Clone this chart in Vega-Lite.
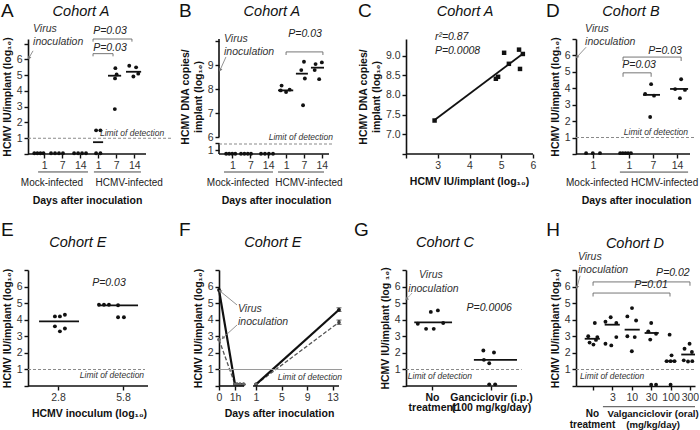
{
"$schema":"https://vega.github.io/schema/vega-lite/v6.json",
"padding":{"left":0,"top":2,"right":0,"bottom":0},
"bounds":"flush",
"columns":4,
"spacing":{"column":40,"row":116},
"concat":[
{"width":151,"height":115,"layer":[
{"data":{"values":[{"x":0.45,"y":0.05},{"x":0.62,"y":0.05},{"x":0.79,"y":0.05},{"x":0.96,"y":0.05},{"x":1.38,"y":0.05},{"x":1.6,"y":0.05},{"x":1.82,"y":0.05},{"x":2.04,"y":0.05},{"x":2.66,"y":0.05},{"x":2.88,"y":0.05},{"x":3.1,"y":0.05},{"x":3.32,"y":0.05},{"x":3.88,"y":1.5},{"x":4.12,"y":1.5},{"x":3.88,"y":0.05},{"x":4.12,"y":0.05},{"x":4.95,"y":5.45},{"x":5.02,"y":5.05},{"x":4.93,"y":4.8},{"x":4.92,"y":2.85},{"x":5.72,"y":5.6},{"x":6.1,"y":5.5},{"x":6.22,"y":5.1},{"x":5.95,"y":4.92}]},
 "mark":{"type":"circle","size":15,"color":"#111","opacity":1},
 "encoding":{"x":{"field":"x","type":"quantitative","scale":{"domain":[0.1,8.482],"nice":false,"zero":false},"axis":{"values":[1,2,3,4,5,6],"tickCount":40,"domain":false,"labelOverlap":false,"labelFlush":false,"labelExpr":"datum.value==1||datum.value==4?'1':(datum.value==2||datum.value==5?'7':'14')","title":"Days after inoculation","titlePadding":25,"titleX":59}},
  "y":{"field":"y","type":"quantitative","scale":{"domain":[0,7.3],"nice":false,"zero":false},"axis":{"values":[0,1,2,3,4,5,6,7],"tickCount":40,"format":"d","labelOverlap":false,"labelFlush":false,"labelExpr":"datum.value>=1&&datum.value<=6?datum.label:''","title":"HCMV IU/implant (log₁₀)","titlePadding":4}}}},
{"data":{"values":[{"x":3.71,"x2":4.27,"y":0.75},{"x":4.54,"x2":5.27,"y":4.97},{"x":5.54,"x2":6.38,"y":5.22}]},"mark":{"type":"rule","color":"#111","strokeWidth":1.8},"encoding":{"x":{"field":"x","type":"quantitative"},"x2":{"field":"x2"},"y":{"field":"y","type":"quantitative"}}},
{"data":{"values":[{"x":0.1,"x2":6.65,"y":0,"y2":0}]},"mark":{"type":"rule","color":"#111","strokeWidth":1.6},"encoding":{"x":{"field":"x","type":"quantitative"},"x2":{"field":"x2"},"y":{"field":"y","type":"quantitative"},"y2":{"field":"y2"}}},
{"data":{"values":[{"x":3.71,"x2":4.82,"y":6.37,"y2":6.37},{"x":3.71,"x2":3.71,"y":6.2,"y2":6.37},{"x":4.82,"x2":4.82,"y":6.2,"y2":6.37},{"x":3.71,"x2":5.87,"y":7.3,"y2":7.3},{"x":3.71,"x2":3.71,"y":7.13,"y2":7.3},{"x":5.87,"x2":5.87,"y":7.13,"y2":7.3}]},"mark":{"type":"rule","color":"#666","strokeWidth":0.9},"encoding":{"x":{"field":"x","type":"quantitative"},"x2":{"field":"x2"},"y":{"field":"y","type":"quantitative"},"y2":{"field":"y2"}}},
{"data":{"values":[{"x":0.66,"x2":3.43,"y":-1.14,"y2":-1.14},{"x":3.76,"x2":6.37,"y":-1.14,"y2":-1.14}]},"mark":{"type":"rule","color":"#333","strokeWidth":0.9},"encoding":{"x":{"field":"x","type":"quantitative"},"x2":{"field":"x2"},"y":{"field":"y","type":"quantitative"},"y2":{"field":"y2"}}},
{"data":{"values":[{"x":0.38,"x2":0.15,"y":6.55,"y2":6.1}]},"mark":{"type":"rule","color":"#777","strokeWidth":0.8},"encoding":{"x":{"field":"x","type":"quantitative"},"x2":{"field":"x2"},"y":{"field":"y","type":"quantitative"},"y2":{"field":"y2"}}},
{"data":{"values":[{}]},"mark":{"type":"point","shape":"triangle-up","filled":true,"color":"#777","size":14,"opacity":1,"angle":215},"encoding":{"x":{"datum":0.15},"y":{"datum":6.1}}},
{"data":{"values":[{}]},"mark":{"type":"rule","color":"#8a8a8a","strokeWidth":1.1,"strokeDash":[3,2]},"encoding":{"x":{"datum":0.1},"x2":{"datum":8.04},"y":{"datum":1}}},
{"data":{"values":[{}]},"mark":{"type":"text","text":"P=0.03","fontSize":10.5,"fontStyle":"italic","align":"left","baseline":"middle","color":"#222"},"encoding":{"x":{"datum":3.72},"y":{"datum":6.75}}},
{"data":{"values":[{}]},"mark":{"type":"text","text":"P=0.03","fontSize":10.5,"fontStyle":"italic","align":"left","baseline":"middle","color":"#222"},"encoding":{"x":{"datum":3.72},"y":{"datum":7.8}}},
{"data":{"values":[{}]},"mark":{"type":"text","text":["Virus","inoculation"],"fontSize":10.5,"fontStyle":"italic","align":"left","baseline":"top","lineHeight":13,"color":"#333"},"encoding":{"x":{"datum":0.38},"y":{"datum":8.25}}},
{"data":{"values":[{}]},"mark":{"type":"text","text":"Limit of detection","fontSize":8.5,"fontStyle":"italic","align":"right","baseline":"middle","color":"#333"},"encoding":{"x":{"datum":7.66},"y":{"datum":1.33}}},
{"data":{"values":[{}]},"mark":{"type":"text","text":"Cohort A","fontSize":14.5,"fontStyle":"italic","align":"center","baseline":"middle","color":"#111"},"encoding":{"x":{"datum":3.04},"y":{"datum":9.0}}},
{"data":{"values":[{}]},"mark":{"type":"text","text":"A","fontSize":19,"align":"left","baseline":"middle","color":"#111"},"encoding":{"x":{"datum":-1.4},"y":{"datum":9.05}}},
{"data":{"values":[{}]},"mark":{"type":"text","text":"Mock-infected","fontSize":10,"align":"center","baseline":"middle","color":"#222"},"encoding":{"x":{"datum":1.43},"y":{"datum":-1.84}}},
{"data":{"values":[{}]},"mark":{"type":"text","text":"HCMV-infected","fontSize":10,"align":"center","baseline":"middle","color":"#222"},"encoding":{"x":{"datum":5.72},"y":{"datum":-1.84}}}
]},
{"width":147,"height":115,"layer":[
{"data":{"values":[{"x":0.65,"y":0.05},{"x":0.82,"y":0.05},{"x":0.99,"y":0.05},{"x":1.16,"y":0.05},{"x":1.48,"y":0.05},{"x":1.67,"y":0.05},{"x":1.86,"y":0.05},{"x":2.04,"y":0.05},{"x":2.6,"y":0.05},{"x":2.82,"y":0.05},{"x":3.04,"y":0.05},{"x":3.27,"y":0.05},{"x":3.75,"y":8.15},{"x":3.7,"y":7.95},{"x":4.2,"y":7.98},{"x":4.0,"y":7.88},{"x":5.0,"y":9.15},{"x":4.85,"y":8.8},{"x":5.05,"y":8.45},{"x":4.95,"y":7.33},{"x":5.65,"y":9.05},{"x":6.0,"y":9.12},{"x":5.6,"y":8.8},{"x":5.85,"y":8.42}]},
 "mark":{"type":"circle","size":15,"color":"#111","opacity":1},
 "encoding":{"x":{"field":"x","type":"quantitative","scale":{"domain":[0.25,8.469],"nice":false,"zero":false},"axis":{"values":[1,2,3,4,5,6],"tickCount":40,"domain":false,"labelOverlap":false,"labelFlush":false,"labelExpr":"datum.value==1||datum.value==4?'1':(datum.value==2||datum.value==5?'7':'14')","title":"Days after inoculation","titlePadding":25,"titleX":57}},
  "y":{"field":"y","type":"quantitative","scale":{"domain":[0,1,6,10.1],"range":[115,111,98,0],"nice":false,"zero":false},"axis":{"values":[1,3.7,6,7,8,9,10],"tickCount":40,"format":"d","labelOverlap":false,"labelFlush":false,"labelExpr":"datum.value==3.7||datum.value==10?'':datum.label","domain":false,"title":["HCMV DNA copies/","implant (log₁₀)"],"titlePadding":4}}}},
{"data":{"values":[{"x":3.55,"x2":4.4,"y":7.95},{"x":4.55,"x2":5.22,"y":8.65},{"x":5.39,"x2":6.12,"y":8.9}]},"mark":{"type":"rule","color":"#111","strokeWidth":1.8},"encoding":{"x":{"field":"x","type":"quantitative"},"x2":{"field":"x2"},"y":{"field":"y","type":"quantitative"}}},
{"data":{"values":[{"x":0.25,"x2":0.25,"y":6,"y2":10.1},{"x":0.25,"x2":0.25,"y":0,"y2":3.7},{"x":0.25,"x2":6.4,"y":0,"y2":0}]},"mark":{"type":"rule","color":"#111","strokeWidth":1.6},"encoding":{"x":{"field":"x","type":"quantitative"},"x2":{"field":"x2"},"y":{"field":"y","type":"quantitative"},"y2":{"field":"y2"}}},
{"data":{"values":[{"x":4.0,"x2":6.06,"y":9.56,"y2":9.56},{"x":4.0,"x2":4.0,"y":9.43,"y2":9.56},{"x":6.06,"x2":6.06,"y":9.43,"y2":9.56}]},"mark":{"type":"rule","color":"#666","strokeWidth":0.9},"encoding":{"x":{"field":"x","type":"quantitative"},"x2":{"field":"x2"},"y":{"field":"y","type":"quantitative"},"y2":{"field":"y2"}}},
{"data":{"values":[{"x":0.53,"x2":3.27,"y":-4.5,"y2":-4.5},{"x":3.55,"x2":6.12,"y":-4.5,"y2":-4.5}]},"mark":{"type":"rule","color":"#333","strokeWidth":0.9},"encoding":{"x":{"field":"x","type":"quantitative"},"x2":{"field":"x2"},"y":{"field":"y","type":"quantitative"},"y2":{"field":"y2"}}},
{"data":{"values":[{"x":0.64,"x2":0.31,"y":9.35,"y2":8.8}]},"mark":{"type":"rule","color":"#777","strokeWidth":0.8},"encoding":{"x":{"field":"x","type":"quantitative"},"x2":{"field":"x2"},"y":{"field":"y","type":"quantitative"},"y2":{"field":"y2"}}},
{"data":{"values":[{}]},"mark":{"type":"point","shape":"triangle-up","filled":true,"color":"#777","size":14,"opacity":1,"angle":205},"encoding":{"x":{"datum":0.31},"y":{"datum":8.8}}},
{"data":{"values":[{}]},"mark":{"type":"rule","color":"#8a8a8a","strokeWidth":1.1,"strokeDash":[3,2]},"encoding":{"x":{"datum":0.25},"x2":{"datum":6.62},"y":{"datum":3.3}}},
{"data":{"values":[{}]},"mark":{"type":"text","text":"P=0.03","fontSize":10.5,"fontStyle":"italic","align":"center","baseline":"middle","color":"#222"},"encoding":{"x":{"datum":5.06},"y":{"datum":10.31}}},
{"data":{"values":[{}]},"mark":{"type":"text","text":["Virus","inoculation"],"fontSize":10.5,"fontStyle":"italic","align":"left","baseline":"top","lineHeight":13,"color":"#333"},"encoding":{"x":{"datum":0.53},"y":{"datum":10.31}}},
{"data":{"values":[{}]},"mark":{"type":"text","text":"Limit of detection","fontSize":8.5,"fontStyle":"italic","align":"right","baseline":"middle","color":"#333"},"encoding":{"x":{"datum":6.62},"y":{"datum":6.0}}},
{"data":{"values":[{}]},"mark":{"type":"text","text":"Cohort A","fontSize":14.5,"fontStyle":"italic","align":"center","baseline":"middle","color":"#111"},"encoding":{"x":{"datum":3.21},"y":{"datum":11.23}}},
{"data":{"values":[{}]},"mark":{"type":"text","text":"B","fontSize":19,"align":"left","baseline":"middle","color":"#111"},"encoding":{"x":{"datum":-1.99},"y":{"datum":11.27}}},
{"data":{"values":[{}]},"mark":{"type":"text","text":"Mock-infected","fontSize":10,"align":"center","baseline":"middle","color":"#222"},"encoding":{"x":{"datum":1.31},"y":{"datum":-7.25}}},
{"data":{"values":[{}]},"mark":{"type":"text","text":"HCMV-infected","fontSize":10,"align":"center","baseline":"middle","color":"#222"},"encoding":{"x":{"datum":5.28},"y":{"datum":-7.25}}}
]},
{"width":130,"height":115,"layer":[
{"data":{"values":[{"x":2.9,"y":7.35},{"x":4.83,"y":8.41},{"x":4.9,"y":8.46},{"x":5.09,"y":9.07},{"x":5.24,"y":8.79},{"x":5.56,"y":9.15},{"x":5.59,"y":8.66},{"x":5.68,"y":9.04}]},
 "layer":[
 {"mark":{"type":"point","shape":"square","filled":true,"size":20,"color":"#111","opacity":1},
  "encoding":{"x":{"field":"x","type":"quantitative","scale":{"domain":[2,6.094],"nice":false,"zero":false},"axis":{"values":[2,3,4,5,6],"tickCount":40,"format":"d","domain":false,"labelOverlap":false,"labelFlush":false,"labelExpr":"datum.value==2?'':datum.label","title":"HCMV IU/implant (log₁₀)","titlePadding":6,"titleX":63}},
   "y":{"field":"y","type":"quantitative","scale":{"domain":[6.5,9.42],"nice":false,"zero":false},"axis":{"values":[6.5,7,7.5,8,8.5,9],"tickCount":40,"format":".1f","labelOverlap":false,"labelFlush":false,"labelExpr":"datum.value==6.5?'':datum.label","title":["HCMV DNA copies/","implant (log₁₀)"],"titlePadding":4}}}},
 {"transform":[{"regression":"y","on":"x","extent":[2.9,5.68]}],"mark":{"type":"line","color":"#111","strokeWidth":1.8},"encoding":{"x":{"field":"x","type":"quantitative"},"y":{"field":"y","type":"quantitative"}}}
 ]},
{"data":{"values":[{"x":2,"x2":6,"y":6.5,"y2":6.5}]},"mark":{"type":"rule","color":"#111","strokeWidth":1.6},"encoding":{"x":{"field":"x","type":"quantitative"},"x2":{"field":"x2"},"y":{"field":"y","type":"quantitative"},"y2":{"field":"y2"}}},
{"data":{"values":[{}]},"mark":{"type":"text","text":"r²=0.87","fontSize":10.5,"fontStyle":"italic","align":"left","baseline":"middle","color":"#222"},"encoding":{"x":{"datum":2.91},"y":{"datum":9.47}}},
{"data":{"values":[{}]},"mark":{"type":"text","text":"P=0.0008","fontSize":10.5,"fontStyle":"italic","align":"left","baseline":"middle","color":"#222"},"encoding":{"x":{"datum":2.91},"y":{"datum":9.12}}},
{"data":{"values":[{}]},"mark":{"type":"text","text":"Cohort A","fontSize":14.5,"fontStyle":"italic","align":"center","baseline":"middle","color":"#111"},"encoding":{"x":{"datum":3.86},"y":{"datum":10.11}}},
{"data":{"values":[{}]},"mark":{"type":"text","text":"C","fontSize":19,"align":"left","baseline":"middle","color":"#111"},"encoding":{"x":{"datum":0.49},"y":{"datum":10.13}}}
]},
{"width":119,"height":115,"layer":[
{"data":{"values":[{"x":0.71,"y":0.05},{"x":0.99,"y":0.05},{"x":1.29,"y":0.05},{"x":2.13,"y":0.05},{"x":2.24,"y":0.05},{"x":2.35,"y":0.05},{"x":2.46,"y":0.05},{"x":2.58,"y":0.05},{"x":3.42,"y":4.25},{"x":3.17,"y":3.65},{"x":3.54,"y":3.55},{"x":3.38,"y":2.25},{"x":4.67,"y":4.55},{"x":4.42,"y":3.95},{"x":4.83,"y":3.9},{"x":4.62,"y":3.4}]},
 "mark":{"type":"circle","size":15,"color":"#111","opacity":1},
 "encoding":{"x":{"field":"x","type":"quantitative","scale":{"domain":[0.29,5.248],"nice":false,"zero":false},"axis":{"values":[1,2.5,3.5,4.5],"tickCount":40,"domain":false,"labelOverlap":false,"labelFlush":false,"labelExpr":"datum.value<3?'1':(datum.value==3.5?'7':'14')","title":"Days after inoculation","titlePadding":25,"titleX":60}},
  "y":{"field":"y","type":"quantitative","scale":{"domain":[0,7],"nice":false,"zero":false},"axis":{"values":[0,1,2,3,4,5,6,7],"tickCount":40,"format":"d","labelOverlap":false,"labelFlush":false,"labelExpr":"datum.value>=1&&datum.value<=6?datum.label:''","title":"HCMV IU/implant (log₁₀)","titlePadding":4}}}},
{"data":{"values":[{"x":3.08,"x2":3.79,"y":3.6},{"x":4.21,"x2":4.96,"y":3.96}]},"mark":{"type":"rule","color":"#111","strokeWidth":1.8},"encoding":{"x":{"field":"x","type":"quantitative"},"x2":{"field":"x2"},"y":{"field":"y","type":"quantitative"}}},
{"data":{"values":[{"x":0.29,"x2":5.04,"y":0,"y2":0}]},"mark":{"type":"rule","color":"#111","strokeWidth":1.6},"encoding":{"x":{"field":"x","type":"quantitative"},"x2":{"field":"x2"},"y":{"field":"y","type":"quantitative"},"y2":{"field":"y2"}}},
{"data":{"values":[{"x":2.25,"x2":3.42,"y":4.94,"y2":4.94},{"x":2.25,"x2":2.25,"y":4.7,"y2":4.94},{"x":3.42,"x2":3.42,"y":4.7,"y2":4.94},{"x":2.25,"x2":4.67,"y":5.9,"y2":5.9},{"x":2.25,"x2":2.25,"y":5.66,"y2":5.9},{"x":4.67,"x2":4.67,"y":5.66,"y2":5.9}]},"mark":{"type":"rule","color":"#666","strokeWidth":0.9},"encoding":{"x":{"field":"x","type":"quantitative"},"x2":{"field":"x2"},"y":{"field":"y","type":"quantitative"},"y2":{"field":"y2"}}},
{"data":{"values":[{"x":2.12,"x2":4.96,"y":-1.1,"y2":-1.1}]},"mark":{"type":"rule","color":"#333","strokeWidth":0.9},"encoding":{"x":{"field":"x","type":"quantitative"},"x2":{"field":"x2"},"y":{"field":"y","type":"quantitative"},"y2":{"field":"y2"}}},
{"data":{"values":[{"x":0.71,"x2":0.33,"y":6.5,"y2":5.9}]},"mark":{"type":"rule","color":"#777","strokeWidth":0.8},"encoding":{"x":{"field":"x","type":"quantitative"},"x2":{"field":"x2"},"y":{"field":"y","type":"quantitative"},"y2":{"field":"y2"}}},
{"data":{"values":[{}]},"mark":{"type":"point","shape":"triangle-up","filled":true,"color":"#777","size":14,"opacity":1,"angle":219},"encoding":{"x":{"datum":0.33},"y":{"datum":5.9}}},
{"data":{"values":[{}]},"mark":{"type":"rule","color":"#8a8a8a","strokeWidth":1.1,"strokeDash":[3,2]},"encoding":{"x":{"datum":0.29},"x2":{"datum":5.248},"y":{"datum":1}}},
{"data":{"values":[{}]},"mark":{"type":"text","text":"P=0.03","fontSize":10.5,"fontStyle":"italic","align":"center","baseline":"middle","color":"#222"},"encoding":{"x":{"datum":2.92},"y":{"datum":5.43}}},
{"data":{"values":[{}]},"mark":{"type":"text","text":"P=0.03","fontSize":10.5,"fontStyle":"italic","align":"center","baseline":"middle","color":"#222"},"encoding":{"x":{"datum":4.0},"y":{"datum":6.3}}},
{"data":{"values":[{}]},"mark":{"type":"text","text":["Virus","inoculation"],"fontSize":10.5,"fontStyle":"italic","align":"left","baseline":"top","lineHeight":13,"color":"#333"},"encoding":{"x":{"datum":0.67},"y":{"datum":7.91}}},
{"data":{"values":[{}]},"mark":{"type":"text","text":"Limit of detection","fontSize":8.5,"fontStyle":"italic","align":"right","baseline":"middle","color":"#333"},"encoding":{"x":{"datum":4.96},"y":{"datum":1.34}}},
{"data":{"values":[{}]},"mark":{"type":"text","text":"Cohort B","fontSize":14.5,"fontStyle":"italic","align":"center","baseline":"middle","color":"#111"},"encoding":{"x":{"datum":2.58},"y":{"datum":8.64}}},
{"data":{"values":[{}]},"mark":{"type":"text","text":"D","fontSize":19,"align":"left","baseline":"middle","color":"#111"},"encoding":{"x":{"datum":-0.96},"y":{"datum":8.7}}},
{"data":{"values":[{}]},"mark":{"type":"text","text":"Mock-infected","fontSize":10,"align":"center","baseline":"middle","color":"#222"},"encoding":{"x":{"datum":1.17},"y":{"datum":-1.77}}},
{"data":{"values":[{}]},"mark":{"type":"text","text":"HCMV-infected","fontSize":10,"align":"center","baseline":"middle","color":"#222"},"encoding":{"x":{"datum":3.98},"y":{"datum":-1.77}}}
]},
{"width":151,"height":116,"layer":[
{"data":{"values":[{"x":2.66,"y":4.2},{"x":2.89,"y":4.2},{"x":3.12,"y":4.3},{"x":2.66,"y":3.6},{"x":2.89,"y":3.3},{"x":3.12,"y":3.47},{"x":4.69,"y":4.9},{"x":4.92,"y":4.9},{"x":5.15,"y":4.9},{"x":5.57,"y":4.87},{"x":5.57,"y":4.15},{"x":5.84,"y":4.15}]},
 "mark":{"type":"circle","size":15,"color":"#111","opacity":1},
 "encoding":{"x":{"field":"x","type":"quantitative","scale":{"domain":[1.42,8.378],"nice":false,"zero":false},"axis":{"values":[2.8,5.8],"tickCount":40,"domain":false,"labelOverlap":false,"labelFlush":false,"format":".1f","title":"HCMV inoculum (log₁₀)","titlePadding":6,"titleX":61}},
  "y":{"field":"y","type":"quantitative","scale":{"domain":[0,7],"nice":false,"zero":false},"axis":{"values":[0,1,2,3,4,5,6,7],"tickCount":40,"format":"d","labelOverlap":false,"labelFlush":false,"labelExpr":"datum.value>=1&&datum.value<=6?datum.label:''","title":"HCMV IU/implant (log₁₀)","titlePadding":4}}}},
{"data":{"values":[{"x":1.93,"x2":3.77,"y":3.9},{"x":4.65,"x2":6.49,"y":4.87}]},"mark":{"type":"rule","color":"#111","strokeWidth":1.8},"encoding":{"x":{"field":"x","type":"quantitative"},"x2":{"field":"x2"},"y":{"field":"y","type":"quantitative"}}},
{"data":{"values":[{"x":1.42,"x2":6.95,"y":0,"y2":0}]},"mark":{"type":"rule","color":"#111","strokeWidth":1.6},"encoding":{"x":{"field":"x","type":"quantitative"},"x2":{"field":"x2"},"y":{"field":"y","type":"quantitative"},"y2":{"field":"y2"}}},
{"data":{"values":[{}]},"mark":{"type":"rule","color":"#8a8a8a","strokeWidth":1.1,"strokeDash":[3,2]},"encoding":{"x":{"datum":1.42},"x2":{"datum":6.81},"y":{"datum":1}}},
{"data":{"values":[{}]},"mark":{"type":"text","text":"P=0.03","fontSize":10.5,"fontStyle":"italic","align":"center","baseline":"middle","color":"#222"},"encoding":{"x":{"datum":5.15},"y":{"datum":6.2}}},
{"data":{"values":[{}]},"mark":{"type":"text","text":"Limit of detection","fontSize":8.5,"fontStyle":"italic","align":"right","baseline":"middle","color":"#333"},"encoding":{"x":{"datum":6.77},"y":{"datum":0.65}}},
{"data":{"values":[{}]},"mark":{"type":"text","text":"Cohort E","fontSize":14.5,"fontStyle":"italic","align":"center","baseline":"middle","color":"#111"},"encoding":{"x":{"datum":3.72},"y":{"datum":8.63}}},
{"data":{"values":[{}]},"mark":{"type":"text","text":"E","fontSize":19,"align":"left","baseline":"middle","color":"#111"},"encoding":{"x":{"datum":0.18},"y":{"datum":9.4}}}
]},
{"width":147,"height":116,"layer":[
{"data":{"values":[{"t":0,"y":5.8,"s":"high","seg":"a"},{"t":0.0417,"y":0.1,"s":"high","seg":"a"},{"t":0.125,"y":0.1,"s":"high","seg":"a"},{"t":0.25,"y":0.1,"s":"high","seg":"a"},{"t":0.4,"y":0.1,"s":"high","seg":"a"},{"t":1,"y":0.1,"s":"high","seg":"b"},{"t":14,"y":4.6,"s":"high","seg":"b"},{"t":0,"y":2.8,"s":"low","seg":"a"},{"t":0.0417,"y":0.1,"s":"low","seg":"a"},{"t":0.125,"y":0.1,"s":"low","seg":"a"},{"t":0.25,"y":0.1,"s":"low","seg":"a"},{"t":0.4,"y":0.1,"s":"low","seg":"a"},{"t":1,"y":0.1,"s":"low","seg":"b"},{"t":14,"y":3.85,"s":"low","seg":"b"}]},
 "layer":[
 {"transform":[{"filter":"datum.s=='low'"}],"mark":{"type":"line","color":"#555","strokeWidth":1.3,"strokeDash":[4,2]},
  "encoding":{"x":{"field":"t","type":"quantitative","scale":{"domain":[0,0.0417,0.5,1,18.23],"range":[0,16,27,37,147],"nice":false,"zero":false},"axis":{"values":[0,0.0417,1,5,9,13],"tickCount":40,"format":"d","labelOverlap":false,"labelFlush":false,"labelExpr":"datum.value==0.0417?'1h':datum.label","domain":false,"title":"Days after inoculation","titlePadding":6,"titleX":60}},
   "y":{"field":"y","type":"quantitative","scale":{"domain":[0,7],"nice":false,"zero":false},"axis":{"values":[0,1,2,3,4,5,6,7],"tickCount":40,"format":"d","labelOverlap":false,"labelFlush":false,"labelExpr":"datum.value>=1&&datum.value<=6?datum.label:''","title":"HCMV IU/implant (log₁₀)","titlePadding":4}},
   "detail":{"field":"seg"}}},
 {"transform":[{"filter":"datum.s=='high'"}],"mark":{"type":"line","color":"#111","strokeWidth":2.2},"encoding":{"x":{"field":"t","type":"quantitative"},"y":{"field":"y","type":"quantitative"},"detail":{"field":"seg"}}},
 {"mark":{"type":"circle","size":14,"opacity":1},"encoding":{"x":{"field":"t","type":"quantitative"},"y":{"field":"y","type":"quantitative"},"color":{"field":"s","type":"nominal","scale":{"domain":["high","low"],"range":["#111","#666"]},"legend":null}}}
 ]},
{"data":{"values":[{"t":14,"lo":4.5,"hi":4.72},{"t":14,"lo":3.72,"hi":3.98}]},"layer":[
 {"mark":{"type":"rule","color":"#222","strokeWidth":1},"encoding":{"x":{"field":"t","type":"quantitative"},"y":{"field":"lo","type":"quantitative"},"y2":{"field":"hi"}}},
 {"mark":{"type":"tick","orient":"horizontal","color":"#222","size":5,"thickness":1},"encoding":{"x":{"field":"t","type":"quantitative"},"y":{"field":"lo","type":"quantitative"}}},
 {"mark":{"type":"tick","orient":"horizontal","color":"#222","size":5,"thickness":1},"encoding":{"x":{"field":"t","type":"quantitative"},"y":{"field":"hi","type":"quantitative"}}}
]},
{"data":{"values":[{"x":0,"x2":0.42,"y":0,"y2":0},{"x":0.85,"x2":14,"y":0,"y2":0}]},"mark":{"type":"rule","color":"#111","strokeWidth":1.6},"encoding":{"x":{"field":"x","type":"quantitative"},"x2":{"field":"x2"},"y":{"field":"y","type":"quantitative"},"y2":{"field":"y2"}}},
{"data":{"values":[{"x":0.125,"x2":0.0026,"y":4.89,"y2":5.73},{"x":0.125,"x2":0.01,"y":3.68,"y2":2.9}]},"mark":{"type":"rule","color":"#777","strokeWidth":0.8},"encoding":{"x":{"field":"x","type":"quantitative"},"x2":{"field":"x2"},"y":{"field":"y","type":"quantitative"},"y2":{"field":"y2"}}},
{"data":{"values":[{}]},"mark":{"type":"point","shape":"triangle-up","filled":true,"color":"#777","size":14,"opacity":1,"angle":308},"encoding":{"x":{"datum":0.0026},"y":{"datum":5.73}}},
{"data":{"values":[{}]},"mark":{"type":"point","shape":"triangle-up","filled":true,"color":"#777","size":14,"opacity":1,"angle":220},"encoding":{"x":{"datum":0.01},"y":{"datum":2.9}}},
{"data":{"values":[{}]},"mark":{"type":"rule","color":"#9a9a9a","strokeWidth":1.1},"encoding":{"x":{"datum":0},"x2":{"datum":14.47},"y":{"datum":1}}},
{"data":{"values":[{}]},"mark":{"type":"text","text":["Virus","inoculation"],"fontSize":10.5,"fontStyle":"italic","align":"left","baseline":"top","lineHeight":13,"color":"#333"},"encoding":{"x":{"datum":0.166},"y":{"datum":4.95}}},
{"data":{"values":[{}]},"mark":{"type":"text","text":"Limit of detection","fontSize":8.5,"fontStyle":"italic","align":"right","baseline":"middle","color":"#333"},"encoding":{"x":{"datum":14.47},"y":{"datum":0.54}}},
{"data":{"values":[{}]},"mark":{"type":"text","text":"Cohort E","fontSize":14.5,"fontStyle":"italic","align":"center","baseline":"middle","color":"#111"},"encoding":{"x":{"datum":3.64},"y":{"datum":8.63}}},
{"data":{"values":[{}]},"mark":{"type":"text","text":"F","fontSize":19,"align":"left","baseline":"middle","color":"#111"},"encoding":{"x":{"datum":-0.104},"y":{"datum":9.4}}}
]},
{"width":130,"height":116,"layer":[
{"data":{"values":[{"x":0.76,"y":3.76},{"x":0.9,"y":3.45},{"x":0.98,"y":4.47},{"x":1.03,"y":3.45},{"x":1.1,"y":4.56},{"x":1.19,"y":3.8},{"x":1.87,"y":2.14},{"x":2.05,"y":2.02},{"x":1.88,"y":1.58},{"x":1.97,"y":1.37},{"x":1.97,"y":0.1},{"x":2.07,"y":0.1}]},
 "mark":{"type":"circle","size":15,"color":"#111","opacity":1},
 "encoding":{"x":{"field":"x","type":"quantitative","scale":{"domain":[0.56,2.762],"nice":false,"zero":false},"axis":{"values":[1,2],"tickCount":40,"domain":false,"labelOverlap":false,"labelFlush":false,"labelExpr":"datum.value==1?['No','treatment']:['Ganciclovir (i.p.)','(100 mg/kg/day)']","labelFontWeight":"bold","labelColor":"#111","labelLineHeight":10.5,"title":null}},
  "y":{"field":"y","type":"quantitative","scale":{"domain":[0,7],"nice":false,"zero":false},"axis":{"values":[0,1,2,3,4,5,6,7],"tickCount":40,"format":"d","labelOverlap":false,"labelFlush":false,"labelExpr":"datum.value>=1&&datum.value<=6?datum.label:''","title":"HCMV IU/implant (log ₁₀)","titlePadding":4}}}},
{"data":{"values":[{"x":0.7,"x2":1.34,"y":3.84},{"x":1.71,"x2":2.44,"y":1.58}]},"mark":{"type":"rule","color":"#111","strokeWidth":1.8},"encoding":{"x":{"field":"x","type":"quantitative"},"x2":{"field":"x2"},"y":{"field":"y","type":"quantitative"}}},
{"data":{"values":[{"x":0.56,"x2":2.44,"y":0,"y2":0}]},"mark":{"type":"rule","color":"#111","strokeWidth":1.6},"encoding":{"x":{"field":"x","type":"quantitative"},"x2":{"field":"x2"},"y":{"field":"y","type":"quantitative"},"y2":{"field":"y2"}}},
{"data":{"values":[{"x":0.66,"x2":0.57,"y":5.6,"y2":5.25}]},"mark":{"type":"rule","color":"#777","strokeWidth":0.8,"strokeDash":[2,1]},"encoding":{"x":{"field":"x","type":"quantitative"},"x2":{"field":"x2"},"y":{"field":"y","type":"quantitative"},"y2":{"field":"y2"}}},
{"data":{"values":[{}]},"mark":{"type":"point","shape":"triangle-up","filled":true,"color":"#777","size":14,"opacity":1,"angle":230},"encoding":{"x":{"datum":0.57},"y":{"datum":5.25}}},
{"data":{"values":[{}]},"mark":{"type":"rule","color":"#8a8a8a","strokeWidth":1.1,"strokeDash":[3,2]},"encoding":{"x":{"datum":0.56},"x2":{"datum":2.52},"y":{"datum":1}}},
{"data":{"values":[{}]},"mark":{"type":"text","text":"P=0.0006","fontSize":10.5,"fontStyle":"italic","align":"center","baseline":"middle","color":"#222"},"encoding":{"x":{"datum":1.97},"y":{"datum":4.7}}},
{"data":{"values":[{}]},"mark":{"type":"text","text":"Limit of detection","fontSize":8.5,"fontStyle":"italic","align":"left","baseline":"middle","color":"#333"},"encoding":{"x":{"datum":0.59},"y":{"datum":0.6}}},
{"data":{"values":[{}]},"mark":{"type":"text","text":"Virus","fontSize":10.5,"fontStyle":"italic","align":"left","baseline":"top","color":"#333"},"encoding":{"x":{"datum":0.78},"y":{"datum":7.0}}},
{"data":{"values":[{}]},"mark":{"type":"text","text":"inoculation","fontSize":10.5,"fontStyle":"italic","align":"left","baseline":"top","color":"#333"},"encoding":{"x":{"datum":0.6},"y":{"datum":6.16}}},
{"data":{"values":[{}]},"mark":{"type":"text","text":"Cohort C","fontSize":14.5,"fontStyle":"italic","align":"center","baseline":"middle","color":"#111"},"encoding":{"x":{"datum":1.22},"y":{"datum":8.63}}},
{"data":{"values":[{}]},"mark":{"type":"text","text":"G","fontSize":19,"align":"left","baseline":"middle","color":"#111"},"encoding":{"x":{"datum":-0.32},"y":{"datum":9.4}}}
]},
{"width":119,"height":116,"layer":[
{"data":{"values":[{"x":1.09,"y":3.8},{"x":0.75,"y":3.0},{"x":1.22,"y":2.95},{"x":0.82,"y":2.62},{"x":1.02,"y":2.5},{"x":1.15,"y":2.78},{"x":1.91,"y":4.15},{"x":1.64,"y":3.88},{"x":2.2,"y":3.8},{"x":2.2,"y":2.95},{"x":1.64,"y":2.55},{"x":1.94,"y":2.45},{"x":3.01,"y":4.7},{"x":2.77,"y":4.2},{"x":3.22,"y":3.95},{"x":2.77,"y":3.0},{"x":3.15,"y":2.95},{"x":3.0,"y":2.1},{"x":4.0,"y":3.8},{"x":3.85,"y":3.3},{"x":4.25,"y":3.15},{"x":3.95,"y":2.8},{"x":4.0,"y":0.08},{"x":4.25,"y":0.08},{"x":4.95,"y":3.1},{"x":5.05,"y":1.85},{"x":4.8,"y":1.5},{"x":5.0,"y":1.5},{"x":5.2,"y":1.5},{"x":5.0,"y":0.08},{"x":5.98,"y":2.55},{"x":5.72,"y":2.25},{"x":6.1,"y":2.05},{"x":5.68,"y":1.55},{"x":6.12,"y":1.5},{"x":5.9,"y":1.48}]},
 "mark":{"type":"circle","size":15,"color":"#111","opacity":1},
 "encoding":{"x":{"field":"x","type":"quantitative","scale":{"domain":[0.12,6.26],"nice":false,"zero":false},"axis":{"values":[1,2,3,4,5,6],"tickCount":40,"labelOverlap":false,"labelFlush":false,"labelExpr":"['','3','10','30','100','300'][datum.value-1]","title":null}},
  "y":{"field":"y","type":"quantitative","scale":{"domain":[0,7],"nice":false,"zero":false},"axis":{"values":[0,1,2,3,4,5,6,7],"tickCount":40,"format":"d","labelOverlap":false,"labelFlush":false,"labelExpr":"datum.value>=1&&datum.value<=6?datum.label:''","title":"HCMV IU/implant (log₁₀)","titlePadding":4}}}},
{"data":{"values":[{"x":0.57,"x2":1.35,"y":2.85},{"x":1.6,"x2":2.38,"y":3.7},{"x":2.63,"x2":3.41,"y":3.4},{"x":3.66,"x2":4.39,"y":3.2},{"x":4.7,"x2":5.29,"y":1.5},{"x":5.55,"x2":6.26,"y":1.9}]},"mark":{"type":"rule","color":"#111","strokeWidth":1.8},"encoding":{"x":{"field":"x","type":"quantitative"},"x2":{"field":"x2"},"y":{"field":"y","type":"quantitative"}}},
{"data":{"values":[{"x":1.0,"x2":6.0,"y":6.28,"y2":6.28},{"x":1.0,"x2":1.0,"y":6.05,"y2":6.28},{"x":6.0,"x2":6.0,"y":6.05,"y2":6.28},{"x":1.0,"x2":4.97,"y":5.61,"y2":5.61},{"x":1.0,"x2":1.0,"y":5.4,"y2":5.61},{"x":4.97,"x2":4.97,"y":5.4,"y2":5.61}]},"mark":{"type":"rule","color":"#666","strokeWidth":0.9},"encoding":{"x":{"field":"x","type":"quantitative"},"x2":{"field":"x2"},"y":{"field":"y","type":"quantitative"},"y2":{"field":"y2"}}},
{"data":{"values":[{"x":1.51,"x2":6.26,"y":-1.25,"y2":-1.25}]},"mark":{"type":"rule","color":"#333","strokeWidth":0.9},"encoding":{"x":{"field":"x","type":"quantitative"},"x2":{"field":"x2"},"y":{"field":"y","type":"quantitative"},"y2":{"field":"y2"}}},
{"data":{"values":[{"x":0.33,"x2":0.17,"y":6.65,"y2":5.95}]},"mark":{"type":"rule","color":"#777","strokeWidth":0.8},"encoding":{"x":{"field":"x","type":"quantitative"},"x2":{"field":"x2"},"y":{"field":"y","type":"quantitative"},"y2":{"field":"y2"}}},
{"data":{"values":[{}]},"mark":{"type":"point","shape":"triangle-up","filled":true,"color":"#777","size":14,"opacity":1,"angle":194},"encoding":{"x":{"datum":0.17},"y":{"datum":5.95}}},
{"data":{"values":[{}]},"mark":{"type":"rule","color":"#8a8a8a","strokeWidth":1.1,"strokeDash":[3,2]},"encoding":{"x":{"datum":0.12},"x2":{"datum":6.3},"y":{"datum":1}}},
{"data":{"values":[{}]},"mark":{"type":"text","text":"P=0.02","fontSize":10.5,"fontStyle":"italic","align":"center","baseline":"middle","color":"#222"},"encoding":{"x":{"datum":5.12},"y":{"datum":6.82}}},
{"data":{"values":[{}]},"mark":{"type":"text","text":"P=0.01","fontSize":10.5,"fontStyle":"italic","align":"center","baseline":"middle","color":"#222"},"encoding":{"x":{"datum":3.99},"y":{"datum":6.1}}},
{"data":{"values":[{}]},"mark":{"type":"text","text":["Virus","inoculation"],"fontSize":10.5,"fontStyle":"italic","align":"left","baseline":"top","lineHeight":13,"color":"#333"},"encoding":{"x":{"datum":0.22},"y":{"datum":8.09}}},
{"data":{"values":[{}]},"mark":{"type":"text","text":"Limit of detection","fontSize":8.5,"fontStyle":"italic","align":"left","baseline":"middle","color":"#333"},"encoding":{"x":{"datum":0.33},"y":{"datum":0.62}}},
{"data":{"values":[{}]},"mark":{"type":"text","text":"Cohort D","fontSize":14.5,"fontStyle":"italic","align":"center","baseline":"middle","color":"#111"},"encoding":{"x":{"datum":3.16},"y":{"datum":8.57}}},
{"data":{"values":[{}]},"mark":{"type":"text","text":"H","fontSize":19,"align":"left","baseline":"middle","color":"#111"},"encoding":{"x":{"datum":-1.42},"y":{"datum":9.41}}},
{"data":{"values":[{}]},"mark":{"type":"text","text":["No","treatment"],"fontSize":10,"fontWeight":"bold","align":"center","baseline":"top","lineHeight":10.5,"color":"#111"},"encoding":{"x":{"datum":0.97},"y":{"datum":-1.39}}},
{"data":{"values":[{}]},"mark":{"type":"text","text":["Valganciclovir (oral)","(mg/kg/day)"],"fontSize":9.6,"fontWeight":"bold","align":"center","baseline":"top","lineHeight":10.5,"color":"#111"},"encoding":{"x":{"datum":4.1},"y":{"datum":-1.39}}}
]}
],
"config":{
 "font":"Liberation Sans",
 "view":{"stroke":null},
 "axis":{"grid":false,"domainColor":"#111","domainWidth":1.6,"tickColor":"#111","tickWidth":1.4,"tickSize":4,"labelFont":"Liberation Sans","labelFontSize":10.5,"labelColor":"#333","labelPadding":2,"titleFont":"Liberation Sans","titleFontSize":10.5,"titleFontWeight":"bold","titleColor":"#111","labelOverlap":false,"labelFlush":false,"labelBound":false},
 "text":{"font":"Liberation Sans"}
}
}
